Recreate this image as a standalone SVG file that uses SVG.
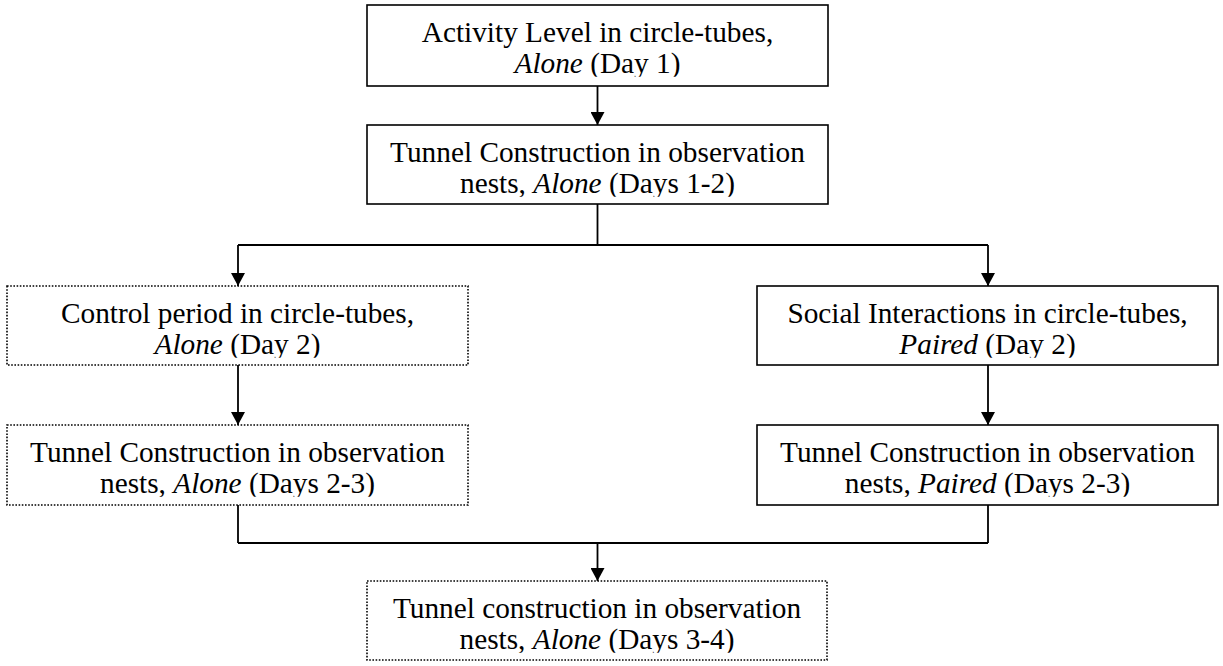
<svg xmlns="http://www.w3.org/2000/svg" width="1223" height="666" viewBox="0 0 1223 666">
<defs>
<style>
.box{fill:#fff;stroke:#000;stroke-width:1.6}
.dot{fill:#fff;stroke:#000;stroke-width:1.6;stroke-dasharray:1.6 1.6}
.t{font-family:"Liberation Serif","Times New Roman",serif;font-size:29.3px;fill:#000;text-anchor:middle}
.l2{clip-path:url(#cut)}
.i{font-style:italic}
.c{fill:none;stroke:#000;stroke-width:1.8}
</style>
<clipPath id="cut" clipPathUnits="objectBoundingBox">
<rect x="-0.1" y="-0.1" width="1.2" height="1.0"/>
</clipPath>
<marker id="ah" viewBox="0 0 13 14" refX="13" refY="7" markerWidth="13" markerHeight="14" markerUnits="userSpaceOnUse" orient="auto">
<path d="M0,0 L13,7 L0,14 z" fill="#000"/>
</marker>
</defs>
<rect width="1223" height="666" fill="#fff"/>
<g id="connectors">
<line class="c" x1="597.5" y1="86" x2="597.5" y2="125" marker-end="url(#ah)"/>
<line class="c" x1="597.5" y1="204" x2="597.5" y2="245"/>
<line class="c" x1="238" y1="245" x2="988" y2="245"/>
<line class="c" x1="238" y1="245" x2="238" y2="286" marker-end="url(#ah)"/>
<line class="c" x1="988" y1="245" x2="988" y2="286" marker-end="url(#ah)"/>
<line class="c" x1="238" y1="365" x2="238" y2="425" marker-end="url(#ah)"/>
<line class="c" x1="988" y1="365" x2="988" y2="425" marker-end="url(#ah)"/>
<line class="c" x1="238" y1="505" x2="238" y2="543"/>
<line class="c" x1="988" y1="505" x2="988" y2="543"/>
<line class="c" x1="238" y1="543" x2="988" y2="543"/>
<line class="c" x1="597.5" y1="543" x2="597.5" y2="581" marker-end="url(#ah)"/>
</g>
<g id="n1">
<rect class="box" x="367" y="5" width="461" height="81"/>
<text class="t" x="597.5" y="42">Activity Level in circle-tubes,</text>
<text class="t l2" x="597.5" y="73"><tspan class="i">Alone</tspan> (Day 1)</text>
</g>
<g id="n2">
<rect class="box" x="367" y="125" width="461" height="79"/>
<text class="t" x="597.5" y="162">Tunnel Construction in observation</text>
<text class="t l2" x="597.5" y="193">nests, <tspan class="i">Alone</tspan> (Days 1-2)</text>
</g>
<g id="n3">
<rect class="dot" x="7" y="286" width="461" height="79"/>
<text class="t" x="237.5" y="323">Control period in circle-tubes,</text>
<text class="t l2" x="237.5" y="354"><tspan class="i">Alone</tspan> (Day 2)</text>
</g>
<g id="n4">
<rect class="box" x="757" y="286" width="461" height="79"/>
<text class="t" x="987.5" y="323">Social Interactions in circle-tubes,</text>
<text class="t l2" x="987.5" y="354"><tspan class="i">Paired</tspan> (Day 2)</text>
</g>
<g id="n5">
<rect class="dot" x="7" y="425" width="461" height="80"/>
<text class="t" x="237.5" y="462">Tunnel Construction in observation</text>
<text class="t l2" x="237.5" y="493">nests, <tspan class="i">Alone</tspan> (Days 2-3)</text>
</g>
<g id="n6">
<rect class="box" x="757" y="425" width="461" height="80"/>
<text class="t" x="987.5" y="462">Tunnel Construction in observation</text>
<text class="t l2" x="987.5" y="493">nests, <tspan class="i">Paired</tspan> (Days 2-3)</text>
</g>
<g id="n7">
<rect class="dot" x="367" y="581" width="460" height="79"/>
<text class="t" x="597" y="618">Tunnel construction in observation</text>
<text class="t l2" x="597" y="649">nests, <tspan class="i">Alone</tspan> (Days 3-4)</text>
</g>
</svg>
